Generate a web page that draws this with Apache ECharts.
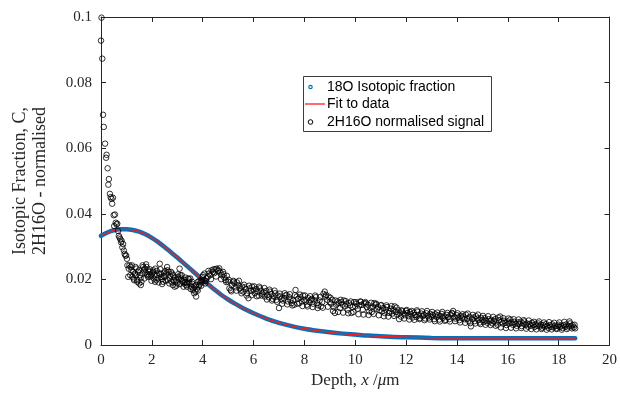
<!DOCTYPE html>
<html>
<head>
<meta charset="utf-8">
<script src="https://cdn.jsdelivr.net/npm/echarts@6/dist/echarts.min.js"></script>
<style>html,body{margin:0;padding:0;background:#fff}#c{width:620px;height:394px}</style>
</head>
<body>
<div id="c"></div>
<script>
// ---- data ----
const xTicks = [0, 2, 4, 6, 8, 10, 12, 14, 16, 18, 20];
const yTicks = [0, 0.02, 0.04, 0.06, 0.08, 0.1];

const isoDepth = [0,0.25,0.5,0.75,1,1.25,1.5,1.75,2,2.25,2.5,2.75,3,3.25,3.5,3.75,4,4.25,4.5,4.75,5,5.25,5.5,5.75,6,6.5,7,7.5,8,8.5,9,9.5,10,10.5,11,11.5,12,13,14,15,16,17,18,18.65];
const isoValue = [0.0333,0.0343,0.0350,0.0353,0.0353,0.0351,0.0346,0.0338,0.0327,0.0314,0.0299,0.0283,0.0267,0.0250,0.0233,0.0216,0.0199,0.0183,0.0167,0.0152,0.0139,0.0127,0.0116,0.0106,0.0097,0.0081,0.0068,0.0058,0.0050,0.0044,0.0039,0.0035,0.0032,0.0029,0.0027,0.0025,0.0024,0.0022,0.0021,0.0021,0.0021,0.0021,0.0021,0.0021];

const fitDepth = [0,0.5,1,1.5,2,2.5,3,3.5,4,4.5,5,5.5,6,6.5,7,8,9,10,11,12,14,16,18.65];
const fitValue = [0.0333,0.0350,0.0353,0.0346,0.0327,0.0299,0.0267,0.0233,0.0199,0.0167,0.0139,0.0116,0.0097,0.0081,0.0068,0.0050,0.0039,0.0032,0.0027,0.0024,0.0021,0.0021,0.0021];

const signal = [
[0,0.0928],[0.02,0.0998],[0.05,0.0873],[0.08,0.0702],[0.11,0.0665],[0.16,0.0614],[0.2,0.0571],[0.22,0.058],[0.26,0.0539],[0.29,0.0489],[0.31,0.0506],[0.35,0.0461],[0.38,0.0451],[0.41,0.0446],[0.44,0.0431],[0.47,0.0449],[0.5,0.0396],[0.52,0.0363],[0.55,0.0398],[0.58,0.0373],[0.61,0.0368],[0.64,0.037],[0.67,0.0348],[0.7,0.0333],[0.73,0.0328],[0.76,0.0323],[0.79,0.0313],[0.81,0.0318],[0.84,0.0298],[0.87,0.0308],[0.9,0.0288],[0.93,0.0278],[0.96,0.0273],[0.99,0.0273],[1.02,0.0263],[1.04,0.0243],[1.07,0.0208],[1.09,0.0233],[1.12,0.0243],[1.15,0.0213],[1.17,0.0238],
[1.2,0.0228],[1.23,0.0208],[1.27,0.0223],[1.3,0.0198],[1.33,0.0218],[1.37,0.0213],[1.4,0.0233],[1.43,0.0198],[1.46,0.0223],[1.5,0.0188],[1.53,0.0213],[1.56,0.0205],[1.59,0.0193],[1.62,0.0218],[1.66,0.0238],[1.69,0.0228],[1.72,0.0233],[1.75,0.0221],[1.79,0.0238],[1.82,0.0213],[1.85,0.0228],[1.88,0.0216],[1.92,0.0223],[1.95,0.0208],[1.98,0.0213],[2.01,0.0218],[2.05,0.0223],[2.08,0.0203],[2.11,0.0213],[2.14,0.0233],[2.18,0.0198],[2.21,0.0213],[2.24,0.0203],[2.28,0.0218],[2.31,0.0248],[2.34,0.0218],[2.37,0.0208],[2.4,0.0201],[2.44,0.0193],[2.47,0.0211],[2.5,0.0208],[2.53,0.0226],[2.57,0.0218],[2.6,0.0238],[2.63,0.0198],[2.66,0.0223],[2.7,0.0203],[2.73,0.0211],[2.77,0.0193],[2.8,0.0218],[2.83,0.0213],[2.86,0.0196],[2.9,0.0178],[2.93,0.0193],[2.96,0.0198],[2.99,0.0188],
[3.03,0.0208],[3.06,0.0203],[3.09,0.0233],[3.12,0.0213],[3.16,0.0203],[3.19,0.0196],[3.22,0.0193],[3.25,0.0188],[3.29,0.0198],[3.32,0.0191],[3.35,0.0183],[3.38,0.0178],[3.42,0.0203],[3.45,0.0193],[3.48,0.0188],[3.51,0.0203],[3.55,0.0178],[3.58,0.0193],[3.61,0.0168],[3.64,0.0173],[3.68,0.0178],[3.71,0.0163],[3.74,0.0148],[3.77,0.0171],[3.81,0.0193],[3.84,0.0178],[3.87,0.0183],[3.9,0.0188],[3.94,0.0198],[3.97,0.0193],[4.0,0.0208],[4.03,0.0198],[4.07,0.0218],[4.1,0.0188],
[4.15,0.0203],[4.2,0.0208],[4.25,0.0218],[4.3,0.0213],[4.35,0.0228],[4.4,0.0223],[4.45,0.0219],[4.5,0.0231],[4.55,0.0233],[4.6,0.0226],[4.65,0.0234],[4.7,0.0221],[4.75,0.0213],[4.8,0.0223],[4.85,0.0206],[4.9,0.0198],[4.95,0.0211],[5.0,0.0193],[5.05,0.0173],[5.1,0.0168],[5.15,0.0183],[5.2,0.0196],[5.25,0.0188],[5.3,0.0176],[5.35,0.0191],[5.4,0.0183],[5.45,0.0173],[5.5,0.0166],[5.55,0.0178],[5.6,0.0163],[5.65,0.0176],[5.7,0.0171],[5.75,0.0158],[5.8,0.0143],[5.85,0.0173],[5.9,0.0165],[5.95,0.0178],
[6.0,0.0168],[6.05,0.0158],[6.1,0.0171],[6.15,0.0163],[6.2,0.0151],[6.25,0.0173],[6.3,0.0166],[6.35,0.0156],[6.4,0.0161],[6.45,0.0148],[6.5,0.0165],[6.55,0.0153],[6.6,0.0146],[6.65,0.0163],[6.7,0.0156],[6.75,0.0141],[6.8,0.0148],[6.85,0.0158],[6.9,0.0138],[6.95,0.0151],[7.0,0.0113],[7.05,0.0148],[7.1,0.0141],[7.15,0.0136],[7.2,0.0143],[7.25,0.0151],[7.3,0.0153],[7.35,0.0133],[7.4,0.0146],[7.45,0.0138],[7.5,0.0128],[7.55,0.0136],[7.6,0.0123],[7.65,0.0168],[7.7,0.0148],[7.75,0.0141],[7.8,0.0128],[7.85,0.0146],[7.9,0.0133],[7.95,0.0151],
[8.0,0.0138],[8.05,0.0133],[8.1,0.0123],[8.15,0.0143],[8.2,0.0131],[8.25,0.0138],[8.3,0.0141],[8.35,0.0126],[8.4,0.0136],[8.45,0.0146],[8.5,0.0128],[8.55,0.0121],[8.6,0.0136],[8.65,0.0118],[8.7,0.0131],[8.75,0.0156],[8.8,0.0163],[8.85,0.0153],[8.9,0.0138],[8.95,0.0148],[9.0,0.0131],[9.05,0.0126],[9.1,0.0138],[9.15,0.0116],[9.2,0.0098],[9.25,0.0123],[9.3,0.0133],[9.35,0.0128],[9.4,0.0113],[9.45,0.0131],[9.5,0.0123],[9.55,0.0136],[9.6,0.0118],[9.65,0.0126],[9.7,0.0108],[9.75,0.0128],[9.8,0.0121],[9.85,0.0098],[9.9,0.0116],[9.95,0.0131],
[10.0,0.0118],[10.05,0.0126],[10.1,0.0111],[10.15,0.0121],[10.2,0.0133],[10.25,0.0123],[10.3,0.0108],[10.35,0.0128],[10.4,0.0131],[10.45,0.0116],[10.5,0.0123],[10.55,0.0103],[10.6,0.0113],[10.65,0.0101],[10.7,0.0118],[10.75,0.0128],[10.8,0.0123],[10.85,0.0111],[10.9,0.0116],[10.95,0.0106],[11.0,0.0121],[11.05,0.0103],[11.1,0.0113],[11.15,0.0098],[11.2,0.0108],[11.25,0.0116],[11.3,0.0087],[11.35,0.0103],[11.4,0.0111],[11.45,0.0096],[11.5,0.0108],[11.55,0.0118],[11.6,0.0101],[11.65,0.0093],[11.7,0.0106],[11.75,0.0098],[11.8,0.0087],[11.85,0.0103],[11.9,0.0096],[11.95,0.0091],
[12.0,0.0104],[12.05,0.0098],[12.1,0.0088],[12.15,0.0101],[12.2,0.0094],[12.25,0.0084],[12.3,0.0099],[12.35,0.0092],[12.4,0.0086],[12.45,0.0102],[12.5,0.0091],[12.55,0.0082],[12.6,0.0096],[12.65,0.0088],[12.7,0.0093],[12.75,0.0081],[12.8,0.0097],[12.85,0.0089],[12.9,0.0084],[12.95,0.0095],[13.0,0.0087],[13.05,0.0092],[13.1,0.0079],[13.15,0.0094],[13.2,0.0086],[13.25,0.0091],[13.3,0.0078],[13.35,0.0089],[13.4,0.0095],[13.45,0.0083],[13.5,0.0088],[13.55,0.0077],[13.6,0.0092],[13.65,0.0085],[13.7,0.0079],[13.75,0.0093],[13.8,0.0098],[13.85,0.0104],[13.9,0.0086],[13.95,0.0081],
[14.0,0.0091],[14.05,0.0084],[14.1,0.0076],[14.15,0.0089],[14.2,0.0083],[14.25,0.0087],[14.3,0.0079],[14.35,0.0093],[14.4,0.0081],[14.45,0.0074],[14.5,0.0086],[14.55,0.0057],[14.6,0.0079],[14.65,0.0084],[14.7,0.0073],[14.75,0.0088],[14.8,0.0081],[14.85,0.0076],[14.9,0.0069],[14.95,0.0083],[15.0,0.0077],[15.05,0.0071],[15.1,0.0082],[15.15,0.0074],[15.2,0.0068],[15.25,0.0079],[15.3,0.0072],[15.35,0.0077],[15.4,0.0066],[15.45,0.0074],[15.5,0.0079],[15.55,0.0069],[15.6,0.0062],[15.65,0.0076],[15.7,0.0087],[15.75,0.0071],[15.8,0.0066],[15.85,0.0074],[15.9,0.0069],[15.95,0.0061],
[16.0,0.0072],[16.05,0.0066],[16.1,0.0078],[16.15,0.0069],[16.2,0.0062],[16.25,0.0071],[16.3,0.0065],[16.35,0.0059],[16.4,0.0069],[16.45,0.0064],[16.5,0.0071],[16.55,0.0058],[16.6,0.0066],[16.65,0.0072],[16.7,0.0061],[16.75,0.0066],[16.8,0.0056],[16.85,0.0064],[16.9,0.0059],[16.95,0.0068],[17.0,0.0062],[17.05,0.0055],[17.1,0.0064],[17.15,0.0059],[17.2,0.0066],[17.25,0.0057],[17.3,0.0062],[17.35,0.0053],[17.4,0.0061],[17.45,0.0056],[17.5,0.0064],[17.55,0.0058],[17.6,0.0052],[17.65,0.0061],[17.7,0.0056],[17.75,0.0063],[17.8,0.0054],[17.85,0.0059],[17.9,0.0051],[17.95,0.0058],
[18.0,0.0062],[18.05,0.0055],[18.1,0.0059],[18.15,0.0052],[18.2,0.0061],[18.25,0.0056],[18.3,0.0063],[18.35,0.0054],[18.4,0.0058],[18.45,0.0066],[18.5,0.0057],[18.55,0.0061],[18.6,0.0054],[18.65,0.0051],
// interleaved samples near the edges of the scatter band
[1.215,0.0243],[1.285,0.0203],[1.355,0.0238],[1.425,0.0193],[1.495,0.0228],[1.565,0.0183],[1.635,0.0243],[1.705,0.0203],[1.775,0.0246],[1.845,0.0208],[1.915,0.0231],[1.985,0.0196],[2.055,0.0228],[2.125,0.0193],[2.195,0.0226],[2.265,0.0191],[2.335,0.0231],[2.405,0.0186],[2.475,0.0221],[2.545,0.0196],[2.615,0.0228],[2.685,0.0188],[2.755,0.0223],[2.825,0.0183],[2.895,0.0206],[2.965,0.0181],[3.035,0.0216],[3.105,0.0186],[3.175,0.0213],[3.245,0.0178],[3.315,0.0206],[3.385,0.0188],[3.455,0.0201],[3.525,0.0171],[3.595,0.0186],[3.665,0.0158],[3.735,0.0183],[3.805,0.0166],[3.875,0.0196],[3.945,0.0181],[4.015,0.0213],[4.085,0.0196],
[4.125,0.0196],[4.225,0.0226],[4.325,0.0201],[4.425,0.0231],[4.525,0.0209],[4.625,0.0228],[4.725,0.0201],[4.825,0.0216],[4.925,0.0192],[5.025,0.0199],[5.125,0.0164],[5.225,0.0193],[5.325,0.0166],[5.425,0.0196],[5.525,0.0158],[5.625,0.0184],[5.725,0.0151],[5.825,0.0181],[5.925,0.0152],[6.025,0.0179],[6.125,0.0149],[6.225,0.0178],[6.325,0.0151],[6.425,0.0174],[6.525,0.0139],[6.625,0.0169],[6.725,0.0136],[6.825,0.0166],[6.925,0.0132],[7.025,0.0157],[7.125,0.0126],[7.225,0.0158],[7.325,0.0124],[7.425,0.0155],[7.525,0.0121],[7.625,0.0152],[7.725,0.0126],[7.825,0.0154],[7.925,0.0119],
[8.025,0.0151],[8.125,0.0118],[8.225,0.0149],[8.325,0.0116],[8.425,0.0151],[8.525,0.0113],[8.625,0.0147],[8.725,0.0114],[8.825,0.0148],[8.925,0.0117],[9.025,0.0144],[9.125,0.0104],[9.225,0.0136],[9.325,0.0101],[9.425,0.0138],[9.525,0.0099],[9.625,0.0134],[9.725,0.0097],[9.825,0.0133],[9.925,0.0101],[10.025,0.0131],[10.125,0.0094],[10.225,0.0132],[10.325,0.0093],[10.425,0.0127],[10.525,0.0092],[10.625,0.0129],[10.725,0.0095],[10.825,0.0126],[10.925,0.0091],[11.025,0.0122],[11.125,0.0088],[11.225,0.0121],[11.325,0.0098],[11.425,0.0119],[11.525,0.0089],[11.625,0.0114],[11.725,0.0079],[11.825,0.0106],[11.925,0.0081],
[12.025,0.0107],[12.125,0.0078],[12.225,0.0104],[12.325,0.0077],[12.425,0.0106],[12.525,0.0079],[12.625,0.0103],[12.725,0.0076],[12.825,0.0104],[12.925,0.0078],[13.025,0.0101],[13.125,0.0073],[13.225,0.0099],[13.325,0.0072],[13.425,0.0101],[13.525,0.0074],[13.625,0.0098],[13.725,0.0072],[13.825,0.0096],[13.925,0.0073],[14.025,0.0097],[14.125,0.0069],[14.225,0.0094],[14.325,0.0068],[14.425,0.0096],[14.525,0.0067],[14.625,0.0092],[14.725,0.0066],[14.825,0.0093],[14.925,0.0064],[15.025,0.0089],[15.125,0.0062],[15.225,0.0088],[15.325,0.0061],[15.425,0.0086],[15.525,0.0059],[15.625,0.0084],[15.725,0.0054],[15.825,0.0082],[15.925,0.0052],
[16.025,0.0081],[16.125,0.0053],[16.225,0.0079],[16.325,0.0051],[16.425,0.0078],[16.525,0.0052],[16.625,0.0076],[16.725,0.0050],[16.825,0.0075],[16.925,0.0049],[17.025,0.0071],[17.125,0.0048],[17.225,0.0072],[17.325,0.0049],[17.425,0.0069],[17.525,0.0047],[17.625,0.0070],[17.725,0.0048],[17.825,0.0068],[17.925,0.0049],[18.025,0.0069],[18.125,0.0047],[18.225,0.0071],[18.325,0.0049],[18.425,0.0072],[18.525,0.0051],[18.625,0.0062]
];

const seriesNames = ['18O Isotopic fraction', 'Fit to data', '2H16O normalised signal'];

// ---- chart ----
const AX = '#262626';
const SERIF = 'Liberation Serif';
const chart = echarts.init(document.getElementById('c'), null, {renderer: 'canvas'});

const isoData = isoDepth.map((d, i) => [d, isoValue[i]]);
const fitData = fitDepth.map((d, i) => [d, fitValue[i]]);

function xAx(pos, showLabel) {
  return {
    type: 'value', position: pos, min: xTicks[0], max: xTicks[xTicks.length - 1], interval: 2,
    axisLine: {show: true, onZero: false, lineStyle: {color: AX, width: 1}},
    axisTick: {show: true, inside: true, length: 5, lineStyle: {color: AX}},
    axisLabel: {show: showLabel, fontFamily: SERIF, fontSize: 15, color: AX, margin: 7},
    splitLine: {show: false}
  };
}
function yAx(pos, showLabel) {
  return {
    type: 'value', position: pos, min: yTicks[0], max: yTicks[yTicks.length - 1], interval: 0.02,
    axisLine: {show: true, onZero: false, lineStyle: {color: AX, width: 1}},
    axisTick: {show: true, inside: true, length: 5, lineStyle: {color: AX}},
    axisLabel: {show: showLabel, fontFamily: SERIF, fontSize: 15, color: AX, margin: 9,
      formatter: v => String(+v.toFixed(4))},
    splitLine: {show: false}
  };
}

const xBottom = xAx('bottom', true);
xBottom.name = 'Depth, {i|x} /{i|μ}m';
xBottom.nameLocation = 'middle';
xBottom.nameGap = 24;
xBottom.nameTextStyle = {fontFamily: SERIF, fontSize: 17, color: AX,
  rich: {i: {fontFamily: SERIF, fontSize: 17, fontStyle: 'italic', color: AX}}};

const yLeft = yAx('left', true);
yLeft.name = 'Isotopic Fraction, C,\n2H16O - normalised';
yLeft.nameLocation = 'middle';
yLeft.nameRotate = 90;
yLeft.nameGap = 51;
yLeft.nameTextStyle = {fontFamily: SERIF, fontSize: 18, color: AX, lineHeight: 20, align: 'center'};

const option = {
  animation: false,
  backgroundColor: '#fff',
  grid: {left: 101, right: 8, top: 17, bottom: 45, containLabel: false},
  xAxis: [xBottom, xAx('top', false)],
  yAxis: [yLeft, yAx('right', false)],
  series: [
    {name: seriesNames[0], type: 'line', data: isoData, smooth: 0.3, showSymbol: false, symbol: 'none',
      lineStyle: {color: '#0072BD', width: 4.5, cap: 'round'}, z: 2},
    {name: seriesNames[1], type: 'line', data: fitData, smooth: 0.3, showSymbol: false, symbol: 'none',
      lineStyle: {color: '#ff1a1a', width: 1.3}, z: 3},
    {name: seriesNames[2], type: 'scatter', data: signal, symbol: 'circle', symbolSize: 5.5,
      itemStyle: {color: 'rgba(0,0,0,0)', borderColor: '#000', borderWidth: 1}, z: 4}
  ],
  graphic: [
    {type: 'rect', left: 303, top: 76, shape: {width: 188, height: 55},
      style: {fill: '#fff', stroke: '#3c3c3c', lineWidth: 1}, z: 100},
    {type: 'circle', shape: {cx: 310.5, cy: 87, r: 1.7}, style: {fill: 'none', stroke: '#0072BD', lineWidth: 1.2}, z: 101},
    {type: 'line', shape: {x1: 305, y1: 104, x2: 325, y2: 104}, style: {stroke: '#ff1a1a', lineWidth: 1.3}, z: 101},
    {type: 'circle', shape: {cx: 310.5, cy: 122, r: 2.3}, style: {fill: 'none', stroke: '#000', lineWidth: 1}, z: 101},
    {type: 'text', x: 327, y: 87, style: {text: seriesNames[0], font: '14px "Liberation Sans"', fill: '#000', verticalAlign: 'middle'}, z: 101},
    {type: 'text', x: 327, y: 104.5, style: {text: seriesNames[1], font: '14px "Liberation Sans"', fill: '#000', verticalAlign: 'middle'}, z: 101},
    {type: 'text', x: 327, y: 122, style: {text: seriesNames[2], font: '14px "Liberation Sans"', fill: '#000', verticalAlign: 'middle'}, z: 101}
  ]
};
chart.setOption(option);
</script>
</body>
</html>
